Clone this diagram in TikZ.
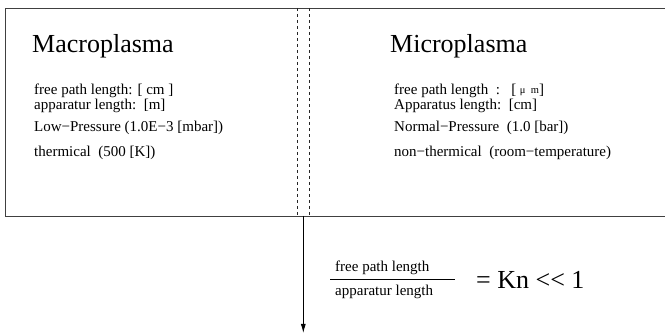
\documentclass[tikz,border=0pt]{standalone}
\usepackage{fontspec}
\setmainfont{Liberation Serif}
\usetikzlibrary{arrows.meta}
\begin{document}
\begin{tikzpicture}[x=1pt,y=-1pt,
  txt/.style={anchor=base west,inner sep=0pt,font=\fontsize{15}{17}\selectfont},
  title/.style={anchor=base west,inner sep=0pt,font=\fontsize{26}{28}\selectfont},
  divider/.style={draw=black!85,line width=0.7pt,dash pattern=on 3pt off 3pt},
  frame/.style={draw=black!75,line width=0.9pt}]
\useasboundingbox (0,0) rectangle (665,334);
\clip (0,0) rectangle (665,334);
\node[frame,anchor=north west,minimum width=700pt,minimum height=208pt,inner sep=0pt] (box) at (5,8) {};
% dividers
\coordinate (d1t) at (297.7,8);
\coordinate (d1b) at (297.7,216);
\coordinate (d2t) at (309.3,8);
\coordinate (d2b) at (309.3,216);
\draw[divider] (d1t) -- (d1b);
\draw[divider] (d2t) -- (d2b);
% titles
\node[title] (macro) at (32,53) {Macroplasma};
\node[title] (micro) at (390,53) {Microplasma};
% left text
\node[txt] (l1) at (34,95) {free path length: [ cm ]};
\node[txt] (l2) at (34,109.5) {apparatur length:\ \ [m]};
\node[txt] (l3) at (34,131.5) {Low−Pressure (1.0E−3 [mbar])};
\node[txt] (l4) at (34,157) {thermical\ \ (500 [K])};
% right text
\node[txt] (r1) at (394,95) {free path length\ \ :\ \ \ [\ {\fontsize{10.5}{12}\selectfont\raisebox{1.5pt}{μ\ \ m}}]};
\node[txt] (r2) at (394,109.5) {Apparatus length:\ \ [cm]};
\node[txt] (r3) at (394,131.5) {Normal−Pressure\ \ (1.0 [bar])};
\node[txt] (r4) at (394,157) {non−thermical\ \ (room−temperature)};
% arrow
\coordinate (atop) at (303.3,216);
\coordinate (abot) at (303.3,333);
\draw[line width=0.8pt,-{Latex[length=9pt,width=5pt]}] (atop) -- (abot);
% fraction
\node[txt] (num) at (335,272) {free path length};
\node[txt] (den) at (335,296) {apparatur length};
\coordinate (fl) at (330,279);
\coordinate (fr) at (455,279);
\draw[line width=0.7pt] (fl) -- (fr);
\node[title] (kn) at (476,288) {= Kn {<}{<} 1};
\end{tikzpicture}
\end{document}
